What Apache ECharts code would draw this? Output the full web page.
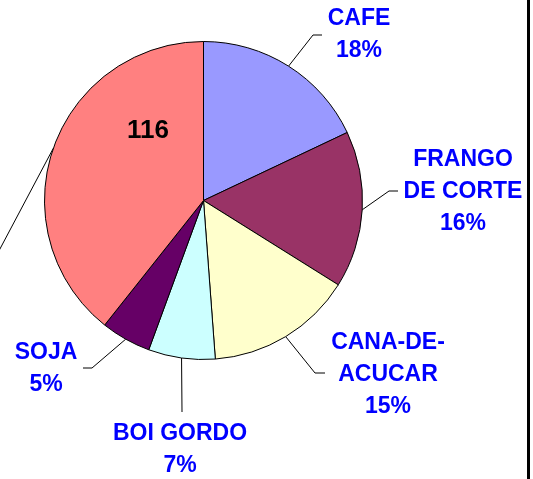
<!DOCTYPE html>
<html>
<head>
<meta charset="utf-8">
<script src="https://cdn.jsdelivr.net/npm/echarts@6/dist/echarts.min.js"></script>
<style>
html,body{margin:0;padding:0;background:#fff;}
#chart{width:533px;height:479px;}
</style>
</head>
<body>
<div id="chart"></div>
<script>
// categorias e valores (sentido horario a partir do topo)
var nomes = ['CAFE', 'FRANGO\nDE CORTE', 'CANA-DE-\nACUCAR', 'BOI GORDO', 'SOJA', 'OUTROS'];
var valores = [53, 47, 44, 20, 15, 116];
var cores = ['#9999FF', '#993366', '#FFFFCC', '#CCFFFF', '#660066', '#FF8080'];

// posicao dos rotulos externos e cotovelos das linhas guia
var rotuloPos = [[359, 35], [463, 192], [388, 375], [180, 450], [46, 369], [-80, 296]];
var linhaGuia = [
    [[313, 35], [322, 35]],
    [[389, 191], [398, 191]],
    [[315, 373], [325, 373]],
    [[182, 412], [182, 412]],
    [[92, 368], [83, 368]],
    [[-25, 296], [-35, 296]]
];
var centro = [203.5, 200.5];
var raio = 159;

var dados = [];
for (var i = 0; i < valores.length; i++) {
    dados.push({name: nomes[i], value: valores[i], itemStyle: {color: cores[i]}});
}

var myChart = echarts.init(document.getElementById('chart'));
var option = {
    animation: false,
    graphic: [{
        type: 'line',
        shape: {x1: 528.5, y1: 0, x2: 528.5, y2: 479},
        style: {stroke: '#000', lineWidth: 3}
    }],
    series: [{
        type: 'pie',
        center: centro,
        radius: raio,
        startAngle: 90,
        clockwise: true,
        percentPrecision: 0,
        avoidLabelOverlap: false,
        itemStyle: {borderColor: '#000', borderWidth: 1},
        emphasis: {disabled: true},
        label: {
            show: true,
            position: 'outside',
            formatter: '{b}\n{d}%',
            color: '#0000FF',
            fontFamily: 'Liberation Sans, Arial, sans-serif',
            fontWeight: 'bold',
            fontSize: 23,
            lineHeight: 32,
            align: 'center'
        },
        labelLine: {
            show: true,
            length: 20,
            length2: 10,
            lineStyle: {color: '#000', width: 1}
        },
        labelLayout: function (params) {
            var k = params.dataIndex;
            var p0 = params.labelLinePoints ? params.labelLinePoints[0] : null;
            var pts = p0 ? [p0, linhaGuia[k][0], linhaGuia[k][1]] : undefined;
            return {
                x: rotuloPos[k][0],
                y: rotuloPos[k][1],
                align: 'center',
                verticalAlign: 'middle',
                labelLinePoints: pts
            };
        },
        data: dados
    }, {
        // rotulo interno do valor da maior fatia
        type: 'pie',
        center: centro,
        radius: raio,
        startAngle: 90,
        clockwise: true,
        silent: true,
        itemStyle: {color: 'rgba(0,0,0,0)', borderWidth: 0},
        label: {
            show: true,
            position: 'inside',
            formatter: function (p) { return p.dataIndex === 5 ? String(p.value) : ''; },
            color: '#000',
            fontFamily: 'Liberation Sans, Arial, sans-serif',
            fontWeight: 'bold',
            fontSize: 26
        },
        labelLine: {show: false},
        labelLayout: function (params) {
            if (params.dataIndex === 5) {
                return {x: 148, y: 131, align: 'center', verticalAlign: 'middle'};
            }
            return {};
        },
        data: valores.map(function (v, i) { return {name: nomes[i], value: v}; })
    }]
};
myChart.setOption(option);
</script>
</body>
</html>
